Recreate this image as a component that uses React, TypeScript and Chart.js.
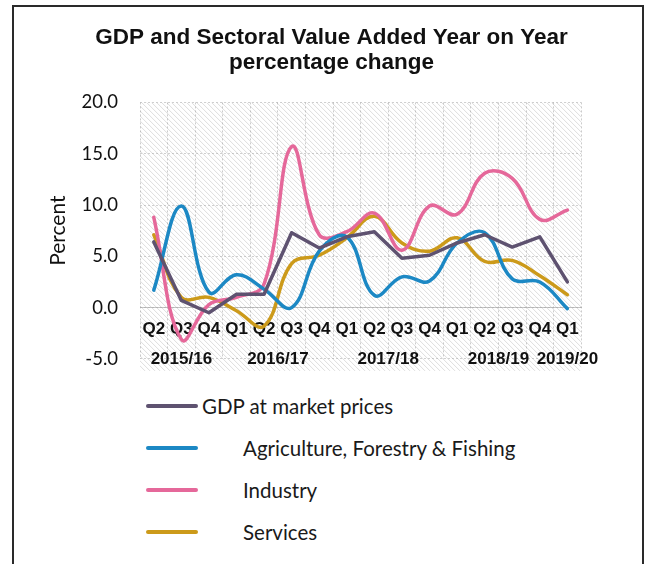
import React, { useEffect, useRef } from "react";
import { Chart, registerables } from "chart.js";

Chart.register(...registerables);

const quarterLabels = ["Q2", "Q3", "Q4", "Q1", "Q2", "Q3", "Q4", "Q1", "Q2", "Q3", "Q4", "Q1", "Q2", "Q3", "Q4", "Q1"];
const yearLabels = ["2015/16", "2016/17", "2017/18", "2018/19", "2019/20"];
const yearPositions = [1, 4.5, 8.5, 12.5, 15];

const gdp = [6.4, 0.7, -0.5, 1.3, 1.3, 7.3, 5.8, 6.9, 7.4, 4.8, 5.1, 6.3, 7.1, 5.9, 6.9, 2.5];
const agriculture = [1.7, 9.9, 1.5, 3.2, 1.8, 0.0, 5.5, 6.9, 1.2, 3.0, 2.6, 6.3, 7.3, 2.8, 2.5, -0.1];
const industry = [8.8, -3.1, 0.3, 1.0, 2.3, 15.7, 7.1, 7.4, 9.2, 5.6, 9.9, 9.1, 13.1, 12.6, 8.6, 9.5];
const services = [7.1, 1.0, 1.0, -0.3, -1.8, 4.3, 5.1, 6.8, 8.9, 6.3, 5.5, 6.8, 4.5, 4.6, 3.1, 1.25];

const seriesNames = ["GDP at market prices", "Agriculture, Forestry & Fishing", "Industry", "Services"];
const seriesColors = ["#5e5270", "#1c88c4", "#e5689a", "#cc9a1a"];
const seriesTension = [0, 0.4, 0.4, 0.4];

const hatchPlugin = {
  id: "hatch",
  beforeDraw(chart: any) {
    const { ctx, chartArea } = chart;
    if (!chartArea) return;
    const { left, right, top, bottom } = chartArea;
    ctx.save();
    ctx.beginPath();
    ctx.rect(left, top, right - left, bottom - top + 12);
    ctx.clip();
    ctx.strokeStyle = "rgba(180,180,180,0.45)";
    ctx.lineWidth = 1;
    const h = bottom - top + 12;
    for (let x = left - h; x < right; x += 5) {
      ctx.beginPath();
      ctx.moveTo(x, top);
      ctx.lineTo(x + h, top + h);
      ctx.stroke();
    }
    ctx.restore();
  },
};

function ChartCanvas() {
  const ref = useRef<HTMLCanvasElement | null>(null);
  useEffect(() => {
    if (!ref.current) return;
    const data = [gdp, agriculture, industry, services];
    const chart = new Chart(ref.current, {
      type: "line",
      data: {
        labels: quarterLabels,
        datasets: data.map((d, i) => ({
          label: seriesNames[i],
          data: d,
          borderColor: seriesColors[i],
          backgroundColor: seriesColors[i],
          borderWidth: 3.5,
          pointRadius: 0,
          tension: seriesTension[i],
          fill: false,
          borderCapStyle: "round",
          borderJoinStyle: "round",
        })),
      },
      options: {
        responsive: false,
        animation: false,
        devicePixelRatio: 1,
        layout: { padding: { left: 32, right: 25, top: 0, bottom: 0 } },
        plugins: {
          legend: { display: false },
          tooltip: { enabled: false },
          title: {
            display: true,
            text: ["GDP and Sectoral Value Added Year on Year", "percentage change"],
            color: "#111",
            font: { family: "'Liberation Sans', Arial, sans-serif", size: 22.5, weight: "bold", lineHeight: 1.12 },
            padding: { top: 18, bottom: 27 },
          },
        },
        scales: {
          x: {
            type: "category",
            position: { y: 0 },
            offset: true,
            grid: {
              display: true,
              offset: true,
              color: "rgba(170,170,170,0.6)",
              drawTicks: false,
            },
            border: { display: true, color: "rgba(170,170,170,0.7)", dash: [2, 2] },
            ticks: {
              autoSkip: false,
              maxRotation: 0,
              padding: 12,
              color: "#111",
              font: { family: "'Liberation Sans', Arial, sans-serif", size: 17, weight: "bold" },
            },
          },
          x2: {
            type: "linear",
            position: { y: 0 },
            min: -0.5,
            max: 15.5,
            grid: { display: false, drawTicks: false },
            border: { display: false },
            afterBuildTicks: (scale: any) => {
              scale.ticks = yearPositions.map((v) => ({ value: v }));
            },
            ticks: {
              autoSkip: false,
              maxRotation: 0,
              padding: 42,
              color: "#111",
              font: { family: "'Liberation Sans', Arial, sans-serif", size: 17, weight: "bold" },
              callback: (_v: any, index: number) => yearLabels[index],
            },
          },
          y: {
            min: -5,
            max: 20,
            afterFit: (scale: any) => {
              scale.width = 94;
            },
            grid: {
              color: "rgba(170,170,170,0.55)",
              drawTicks: false,
            },
            border: { display: false, dash: [2, 2] },
            ticks: {
              stepSize: 5,
              padding: 22,
              color: "#111",
              font: { family: "Lato, 'Open Sans', sans-serif", size: 18.5 },
              callback: (v: any) => Number(v).toFixed(1),
            },
            title: {
              display: true,
              text: "Percent",
              color: "#111",
              padding: 0,
              font: { family: "Lato, 'Open Sans', sans-serif", size: 21 },
            },
          },
        },
      },
      plugins: [hatchPlugin],
    });
    return () => chart.destroy();
  }, []);
  return <canvas ref={ref} width={628} height={385} style={{ position: "absolute", left: 0, top: 0 }} />;
}

export default function App() {
  return (
    <div
      style={{
        position: "absolute",
        left: 12,
        top: 5,
        width: 632,
        height: 580,
        border: "2px solid #2a2a2a",
        boxSizing: "border-box",
        background: "#fff",
      }}
    >
      <ChartCanvas />
      {seriesNames.map((name, i) => (
        <div key={name}>
          <div
            style={{
              position: "absolute",
              left: 132,
              top: 397 + 42 * i,
              width: 52,
              height: 4,
              borderRadius: 2,
              background: seriesColors[i],
            }}
          />
          <div
            style={{
              position: "absolute",
              left: i === 0 ? 188 : 229,
              top: 399 + 42 * i - 14,
              height: 28,
              lineHeight: "28px",
              fontFamily: "Lato, 'Open Sans', sans-serif",
              fontSize: 20.5,
              color: "#1a1a1a",
              whiteSpace: "nowrap",
            }}
          >
            {name}
          </div>
        </div>
      ))}
    </div>
  );
}
